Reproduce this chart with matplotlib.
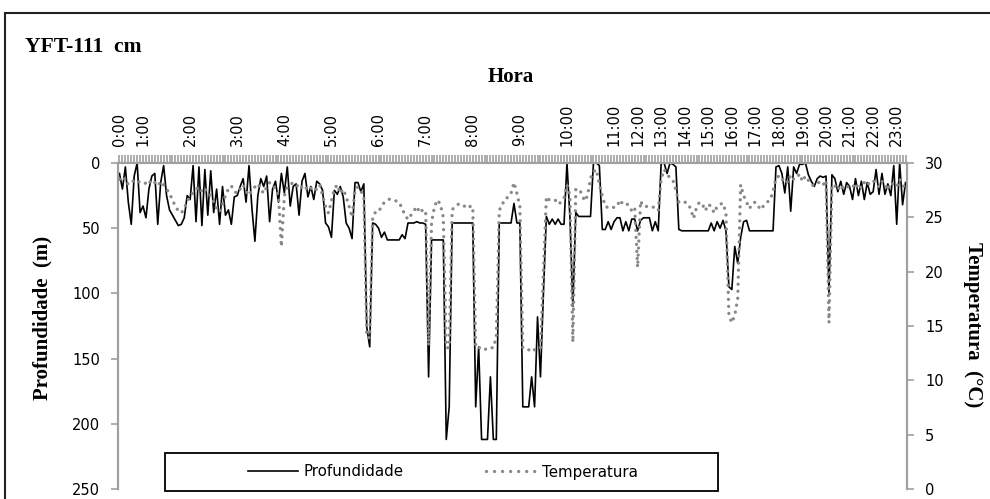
import numpy as np
import matplotlib
matplotlib.use("Agg")
import matplotlib.pyplot as plt
from matplotlib.patches import Rectangle
from matplotlib.lines import Line2D

# ===========================
# dados
# ===========================
hour_labels = [f"{h}:00" for h in range(24)]
samples_per_hour = [8] + [16] * 10 + [8] * 12 + [4]

depth = [
    8, 20, 3, 30, 47, 10, 0, 38,                                          # 0h
    33, 42, 20, 10, 8, 47, 15, 2, 25, 36, 40, 44, 48, 47, 42, 25,         # 1h
    28, 2, 45, 3, 48, 5, 40, 6, 38, 20, 47, 18, 40, 36, 47, 26,           # 2h
    25, 18, 12, 30, 2, 35, 60, 25, 12, 18, 10, 45, 20, 14, 30, 8,         # 3h
    23, 3, 33, 18, 16, 40, 14, 8, 26, 18, 28, 14, 16, 21, 46, 49,         # 4h
    57, 21, 24, 18, 26, 46, 50, 58, 15, 15, 22, 16, 126, 141, 46, 47,     # 5h
    50, 57, 53, 59, 59, 59, 59, 59, 55, 58, 46, 46, 46, 45, 46, 46,       # 6h
    47, 164, 59, 59, 59, 59, 59, 212, 187, 46, 46, 46, 46, 46, 46, 46,    # 7h
    46, 187, 141, 212, 212, 212, 164, 212, 212, 46, 46, 46, 46, 46, 31, 46,  # 8h
    46, 187, 187, 187, 164, 187, 118, 164, 100, 41, 47, 43, 47, 43, 47, 47,  # 9h
    0, 41, 110, 38, 41, 41, 41, 41, 41, 0, 0, 2, 51, 51, 45, 51,          # 10h
    45, 42, 42, 52, 45, 52, 43, 43,                                       # 11h
    52, 44, 42, 42, 42, 52, 45, 52,                                       # 12h
    0, 0, 8, 0, 1, 3, 51, 52,                                             # 13h
    52, 52, 52, 52, 52, 52, 52, 52,                                       # 14h
    52, 46, 52, 45, 50, 44, 52, 95,                                       # 15h
    97, 64, 77, 57, 45, 44, 52, 52,                                       # 16h
    52, 52, 52, 52, 52, 52, 52, 3,                                        # 17h
    2, 8, 23, 3, 37, 3, 8, 1,                                             # 18h
    1, 0, 9, 14, 18, 12, 10, 11,                                          # 19h
    10, 100, 9, 12, 22, 14, 24, 15,                                       # 20h
    18, 28, 12, 25, 14, 28, 15, 24,                                       # 21h
    22, 5, 24, 8, 24, 16, 25, 2,                                          # 22h
    47, 0, 32, 15,                                                        # 23h
]

temp = [
    28.5, 28.3, 28.6, 28.0, 28.2, 28.4, 28.2, 28.3,
    28.3, 28.1, 28.4, 28.0, 28.2, 27.9, 28.3, 28.0, 27.6, 27.2, 26.6, 26.0, 25.6, 25.4, 25.8, 26.5,
    26.9, 27.3, 27.6, 27.8, 27.4, 27.7, 27.2, 27.0, 26.4, 25.8, 25.5, 26.2, 27.0, 27.6, 27.9, 27.4,
    27.2, 27.6, 28.0, 27.4, 27.0, 27.5, 27.8, 28.1, 27.6, 27.2, 27.8, 28.2, 28.0, 27.6, 27.0, 22.3,
    27.0, 27.8, 28.0, 28.2, 28.1, 27.6, 27.8, 27.5, 27.9, 27.7, 27.4, 27.6, 28.0, 27.0, 26.0, 25.4,
    26.5, 27.6, 28.0, 27.2, 27.6, 26.9, 26.0, 25.0, 27.5, 27.8, 27.4, 27.0, 14.0, 13.9, 25.0, 25.5,
    25.5, 26.0, 26.4, 26.6, 26.7, 26.6, 26.5, 26.4, 25.8, 25.2, 24.8, 25.2, 25.6, 26.0, 25.4, 25.7,
    25.6, 13.2, 24.5, 26.0, 26.6, 26.2, 25.0, 13.0, 13.0, 25.7, 26.0, 26.2, 26.2, 26.0, 26.2, 26.0,
    26.0, 13.0, 13.0, 13.0, 12.8, 13.0, 13.0, 13.0, 14.0, 25.6, 26.3, 26.4, 27.0, 27.2, 28.2, 27.2,
    26.0, 13.0, 12.8, 12.8, 13.0, 12.8, 13.0, 13.0, 20.0, 26.9, 26.6, 26.6, 26.6, 26.2, 26.4, 26.8,
    28.0, 27.0, 13.5, 27.6, 27.6, 27.2, 26.5, 27.0, 28.6, 29.2, 29.4, 28.0, 27.0, 26.0, 25.9, 26.0,
    25.9, 26.0, 26.6, 26.2, 26.3, 26.1, 25.6, 25.9,
    20.4, 26.5, 26.0, 26.0, 26.0, 26.0, 25.8, 25.6,
    28.5, 29.4, 29.0, 28.6, 28.4, 27.5, 26.4, 26.3,
    26.4, 26.3, 25.8, 24.9, 25.9, 26.4, 26.2, 25.6,
    26.2, 26.0, 25.4, 26.0, 26.2, 26.3, 25.4, 16.0,
    15.3, 16.0, 17.5, 28.0, 27.0, 26.4, 25.8, 26.3,
    26.4, 26.0, 25.7, 26.2, 26.4, 26.6, 27.4, 28.6,
    28.8, 28.4, 28.6, 28.2, 28.9, 28.5, 28.6, 29.0,
    28.3, 28.8, 28.4, 28.0, 27.9, 28.1, 28.3, 28.0,
    28.4, 15.3, 28.0, 27.9, 27.5, 28.0, 27.6, 27.8,
    27.8, 28.0, 27.6, 28.1, 27.7, 28.2, 27.9, 28.3,
    28.4, 28.0, 27.8, 28.3, 28.1, 27.5, 28.2, 28.0,
    27.8, 28.5, 28.0, 27.6,
]

assert len(depth) == len(temp) == sum(samples_per_hour)

n = len(depth)
x = np.arange(n)
hour_pos = np.concatenate([[0], np.cumsum(samples_per_hour)[:-1]])
tick_labels = [""] * n
for p, lab in zip(hour_pos, hour_labels):
    tick_labels[p] = lab

# ===========================
# figura
# ===========================
GRAY = "#a0a0a0"
DOT = "#888888"
DOTSTYLE = (0, (0.01, 2.1))
plt.rcParams["font.family"] = "DejaVu Sans"

fig = plt.figure(figsize=(9.9, 4.99), dpi=100)
ax = fig.add_axes([118 / 990, 1 - 489 / 499, 789 / 990, 326 / 499])
ax2 = ax.twinx()

ax.plot(x, depth, color="black", lw=1.2, zorder=2)
ax2.plot(x, temp, color=DOT, lw=2.4, linestyle=DOTSTYLE,
         dash_capstyle="round", zorder=3)

ax.set_xlim(-0.5, n - 0.5)
ax.set_ylim(250, 0)
ax2.set_ylim(0, 30)

ax.xaxis.tick_top()
ax.set_xticks(x)
ax.set_xticklabels(tick_labels, rotation=90, fontsize=10.5)
ax.tick_params(axis="x", direction="out", length=6, width=1.2, color=GRAY, pad=6)

ax.set_yticks(range(0, 251, 50))
ax.tick_params(axis="y", direction="out", length=5, width=1.2, color=GRAY,
               labelsize=10.5, pad=8)
ax2.set_yticks(range(0, 31, 5))
ax2.tick_params(axis="y", direction="out", length=5, width=1.2, color=GRAY,
                labelsize=10.5, pad=8)

for a in (ax, ax2):
    for s in a.spines.values():
        s.set_color(GRAY)
        s.set_linewidth(1.5)
    a.spines["bottom"].set_visible(False)
    a.patch.set_visible(False)

# textos
serif = "Liberation Serif"
fig.text(25 / 990, 1 - 52 / 499, "YFT-111  cm", family=serif, weight="bold",
         fontsize=15.5, va="baseline")
fig.text(511 / 990, 1 - 77 / 499, "Hora", family=serif, weight="bold",
         fontsize=15, ha="center", va="center")
fig.text(42 / 990, 1 - 318 / 499, "Profundidade  (m)", family=serif, weight="bold",
         fontsize=15, rotation=90, ha="center", va="center")
fig.text(973 / 990, 1 - 325 / 499, "Temperatura  (°C)", family=serif, weight="bold",
         fontsize=15, rotation=-90, ha="center", va="center")

# legenda
fig.patches.append(Rectangle((165 / 990, 1 - 491 / 499), 553 / 990, 38 / 499,
                             transform=fig.transFigure, facecolor="white",
                             edgecolor="black", lw=1.3, zorder=5))
handles = [Line2D([], [], color="black", lw=1.2),
           Line2D([], [], color=DOT, lw=2.4, linestyle=(0, (0.01, 2.4)),
                  dash_capstyle="round")]
fig.legend(handles, ["Profundidade", "Temperatura"], ncol=2, frameon=False,
           loc="center", bbox_to_anchor=(443 / 990, 1 - 472 / 499),
           fontsize=10.8, handlelength=3.3, columnspacing=5.5, handletextpad=0.4)

# moldura externa
fig.patches.append(Rectangle((5 / 990, -0.2), 1.2, 1.2 - 13 / 499,
                             transform=fig.transFigure, fill=False,
                             edgecolor="#222222", lw=1.5))

fig.savefig("out.png", dpi=100)
